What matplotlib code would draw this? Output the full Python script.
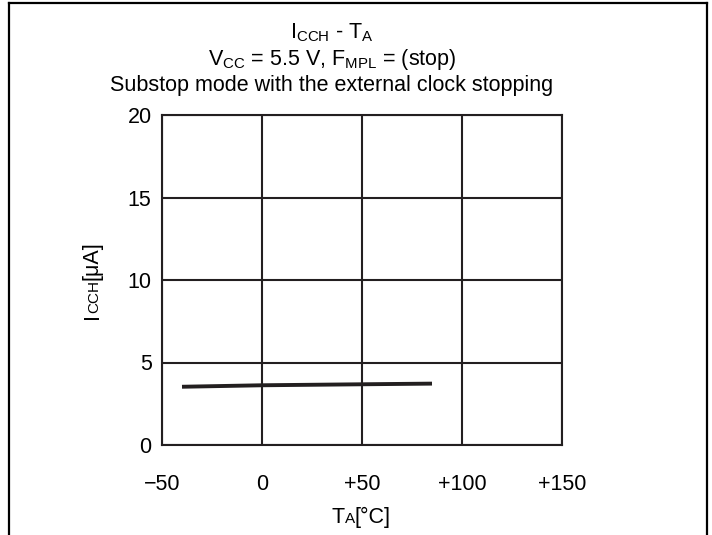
import numpy as np
import matplotlib
matplotlib.use("Agg")
import matplotlib.pyplot as plt
from matplotlib.lines import Line2D
from matplotlib.transforms import offset_copy

plt.rcParams['font.family'] = ['Liberation Sans', 'DejaVu Sans']
plt.rcParams['mathtext.fontset'] = 'custom'
plt.rcParams['mathtext.rm'] = 'Liberation Sans'

# data
temps = [-40, 0, 50, 85]
icch = [3.53, 3.62, 3.68, 3.72]

xticks = [-50, 0, 50, 100, 150]
xtick_labels = ['\u221250', '0', '+50', '+100', '+150']
yticks = [0, 5, 10, 15, 20]

title_lines = [r'$\mathregular{I_{CCH}}$ - $\mathregular{T_A}$',
               r'$\mathregular{V_{CC}}$ = 5.5 V, $\mathregular{F_{MPL}}$ = (stop)',
               'Substop mode with the external clock stopping']

W, H = 712, 535
fs = 15.5
fig = plt.figure(figsize=(W / 100, H / 100), dpi=100)
ax = fig.add_axes([162 / W, 1 - 445 / H, 400 / W, 330 / H])

ink = '#231f20'
ax.plot(temps, icch, color=ink, lw=2.8, solid_capstyle='butt')

ax.set_xlim(-50, 150)
ax.set_ylim(0, 20)
ax.set_xticks(xticks)
ax.set_xticklabels(xtick_labels)
ax.set_yticks(yticks)
ax.grid(True, color=ink, lw=1.5)
for s in ax.spines.values():
    s.set_color(ink)
    s.set_linewidth(1.5)
ax.tick_params(length=0, labelsize=fs, colors='black')
ax.tick_params(axis='x', pad=21)
ax.tick_params(axis='y', pad=7.5)

# title block
for ty, line in zip([38, 65, 91], title_lines):
    fig.text(332 / W, 1 - ty / H, line, ha='center', va='baseline', fontsize=fs)

# outer frame
lw = 1.6
fig.add_artist(Line2D([9 / W, 9 / W], [0, 1 - 3 / H], color='black', lw=lw))
fig.add_artist(Line2D([707 / W, 707 / W], [0, 1 - 3 / H], color='black', lw=lw))
fig.add_artist(Line2D([9 / W, 707 / W], [1 - 3 / H, 1 - 3 / H], color='black', lw=lw))


def small_caps_label(parts, x, y, vertical):
    # text pieces with a smaller middle part sharing one baseline
    renderer = fig.canvas.get_renderer()
    texts = []
    sizes = []
    for s, size in parts:
        t = fig.text(x, y, s, fontsize=size, ha='left', va='baseline',
                     rotation=90 if vertical else 0, rotation_mode='anchor')
        bb = t.get_window_extent(renderer)
        texts.append(t)
        sizes.append(bb.height if vertical else bb.width)
    off = -sum(sizes) / 2
    for t, sz in zip(texts, sizes):
        if vertical:
            t.set_transform(offset_copy(fig.transFigure, fig, x=0, y=off, units='dots'))
        else:
            t.set_transform(offset_copy(fig.transFigure, fig, x=off, y=0, units='dots'))
        off += sz


small_caps_label([('T', fs), ('A', 11), ('[\u00b0C]', fs)], 361 / W, 1 - 523 / H, False)
small_caps_label([('I', fs), ('CCH', 11), ('[\u03bcA]', fs)], 98 / W, 1 - 280 / H, True)

fig.savefig('out.png', dpi=100)
